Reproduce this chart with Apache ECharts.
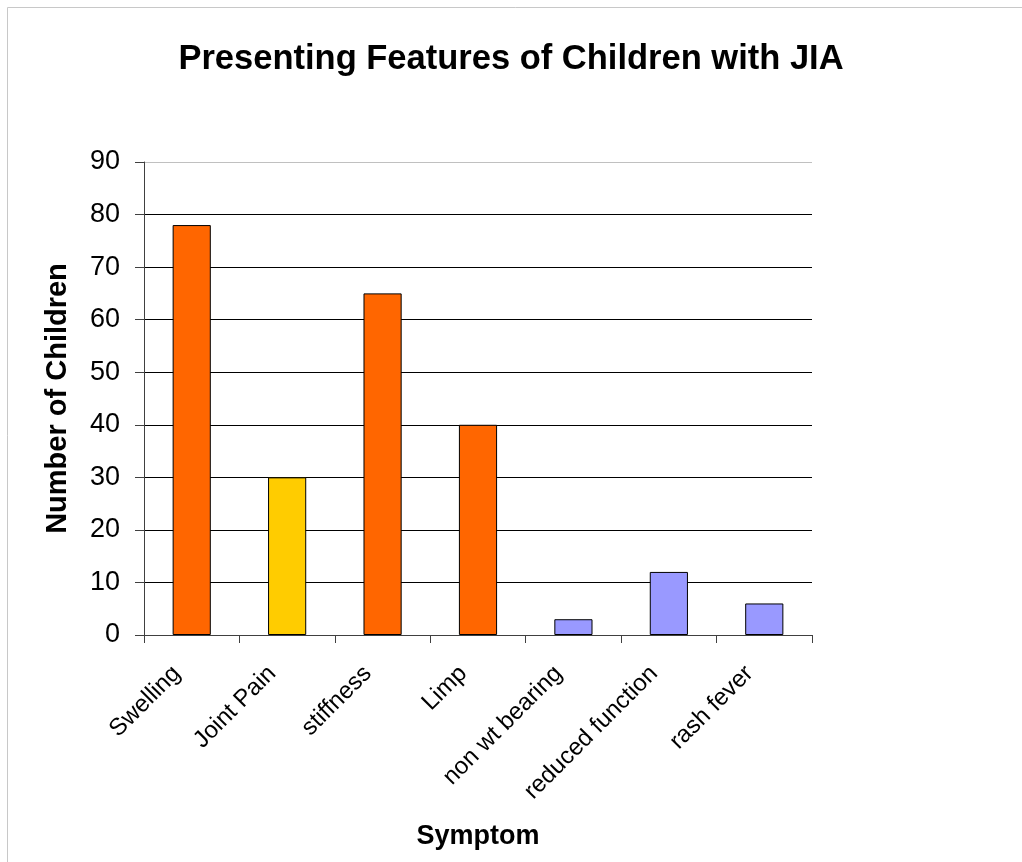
<!DOCTYPE html>
<html>
<head>
<meta charset="utf-8">
<title>Presenting Features of Children with JIA</title>
<script src="https://cdn.jsdelivr.net/npm/echarts@6/dist/echarts.min.js"></script>
<style>
  html, body { margin: 0; padding: 0; background: #ffffff; }
  #chart { width: 1022px; height: 862px; }
</style>
</head>
<body>
<div id="chart"></div>
<script>
// Symptoms recorded at presentation
const symptoms = ['Swelling', 'Joint Pain', 'stiffness', 'Limp', 'non wt bearing', 'reduced function', 'rash fever'];
// Number of children reporting each symptom
const childCounts = [78, 30, 65, 40, 3, 12, 6];
// Fill colour for each bar
const barColors = ['#FF6600', '#FFCC00', '#FF6600', '#FF6600', '#9999FF', '#9999FF', '#9999FF'];

const FONT = "'Liberation Sans', Arial, Helvetica, sans-serif";

const chart = echarts.init(document.getElementById('chart'), null, { renderer: 'canvas' });

chart.setOption({
  animation: false,
  backgroundColor: '#ffffff',
  graphic: [{
    type: 'rect',
    shape: { x: 7.5, y: 7.5, width: 1100, height: 1000 },
    style: { fill: 'none', stroke: '#c8c8c8', lineWidth: 1 },
    silent: true,
    z: -10
  }],
  title: {
    text: 'Presenting Features of Children with JIA',
    left: 'center',
    top: 37,
    textStyle: { fontFamily: FONT, fontSize: 34.5, fontWeight: 'bold', color: '#000000' }
  },
  grid: { left: 144, right: 210, top: 162, bottom: 227, containLabel: false },
  xAxis: {
    type: 'category',
    data: symptoms,
    name: 'Symptom',
    nameLocation: 'middle',
    nameGap: 188,
    nameTextStyle: { fontFamily: FONT, fontSize: 27, fontWeight: 'bold', color: '#000000' },
    axisLine: { show: true, lineStyle: { color: '#404040', width: 1 } },
    axisTick: { show: true, length: 8, lineStyle: { color: '#404040' } },
    axisLabel: {
      rotate: 45,
      margin: 20,
      padding: [0, 21, 0, 0],
      interval: 0,
      fontFamily: FONT,
      fontSize: 24,
      color: '#000000'
    },
    splitLine: { show: false }
  },
  yAxis: {
    type: 'value',
    min: 0,
    max: 90,
    interval: 10,
    name: 'Number of Children',
    nameLocation: 'middle',
    nameGap: 72,
    nameTextStyle: { fontFamily: FONT, fontSize: 29, fontWeight: 'bold', color: '#000000' },
    axisLine: { show: true, lineStyle: { color: '#404040', width: 1 } },
    axisTick: { show: true, length: 9, lineStyle: { color: '#404040' } },
    axisLabel: { margin: 24, fontFamily: FONT, fontSize: 27, color: '#000000' },
    splitLine: {
      show: true,
      lineStyle: {
        color: ['#000000', '#000000', '#000000', '#000000', '#000000', '#000000', '#000000', '#000000', '#000000', '#c0c0c0'],
        width: 1
      }
    }
  },
  series: [{
    type: 'bar',
    barWidth: '40%',
    data: childCounts.map((v, i) => ({
      value: v,
      itemStyle: { color: barColors[i], borderColor: '#000000', borderWidth: 1 }
    }))
  }]
});
</script>
</body>
</html>
